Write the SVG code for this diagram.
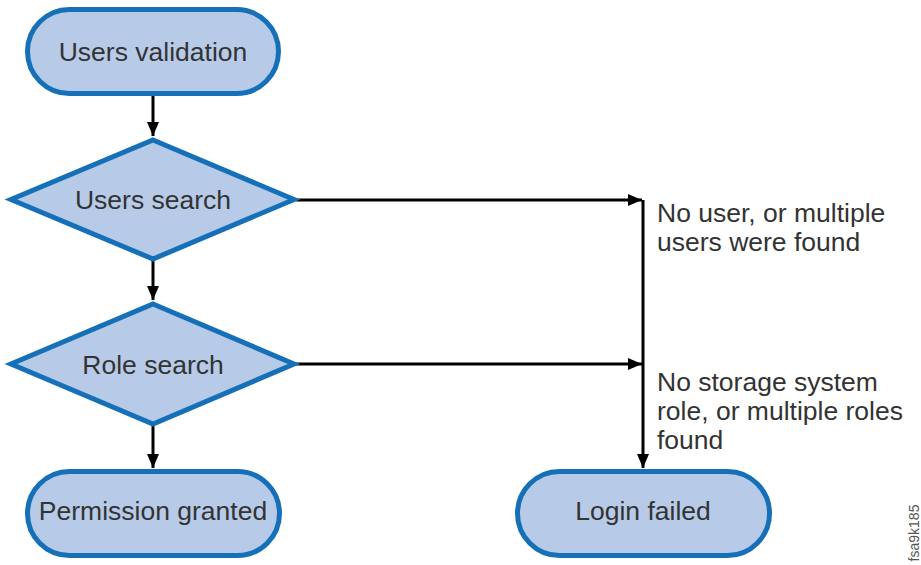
<svg xmlns="http://www.w3.org/2000/svg" width="921" height="565" viewBox="0 0 921 565">
<style>
.node{fill:#b7cbe9;stroke:#1670b8;stroke-width:5}
.lbl{font-family:"Liberation Sans",Arial,sans-serif;font-size:26.5px;fill:#333333}
.c{text-anchor:middle}
.edge{stroke:#000;stroke-width:3;fill:none}
</style>
<defs>
<marker id="ah" viewBox="0 0 14 12" refX="14" refY="6" markerWidth="14" markerHeight="12" markerUnits="userSpaceOnUse" orient="auto">
<path d="M0,0 L14,6 L0,12 Z" fill="#000"/>
</marker>
</defs>
<rect width="921" height="565" fill="#fff"/>
<g id="connectors">
<line class="edge" x1="153" y1="95" x2="153" y2="136" marker-end="url(#ah)"/>
<line class="edge" x1="153" y1="261" x2="153" y2="300" marker-end="url(#ah)"/>
<line class="edge" x1="153" y1="426" x2="153" y2="468" marker-end="url(#ah)"/>
<line class="edge" x1="296" y1="200" x2="642" y2="200" marker-end="url(#ah)"/>
<line class="edge" x1="296" y1="364" x2="642" y2="364" marker-end="url(#ah)"/>
<line class="edge" x1="643" y1="200" x2="643" y2="468" marker-end="url(#ah)"/>
</g>
<g id="users-validation">
<rect class="node" x="27.5" y="9.5" width="251" height="84" rx="42" ry="42"/>
<text class="lbl c" x="153" y="61">Users validation</text>
</g>
<g id="users-search">
<polygon class="node" points="153,140 294,199.5 153,259 11,199.5"/>
<text class="lbl c" x="153" y="209">Users search</text>
</g>
<g id="role-search">
<polygon class="node" points="153,304 294,364 153,424 11,364"/>
<text class="lbl c" x="153" y="374">Role search</text>
</g>
<g id="permission-granted">
<rect class="node" x="27.5" y="471.5" width="252" height="84" rx="42" ry="42"/>
<text class="lbl c" x="153" y="520">Permission granted</text>
</g>
<g id="login-failed">
<rect class="node" x="517.5" y="471.5" width="252" height="84" rx="42" ry="42"/>
<text class="lbl c" x="643" y="520">Login failed</text>
</g>
<g id="label-users">
<text class="lbl" x="657" y="222">No user, or multiple</text>
<text class="lbl" x="657" y="251">users were found</text>
</g>
<g id="label-roles">
<text class="lbl" x="657" y="391">No storage system</text>
<text class="lbl" x="657" y="420">role, or multiple roles</text>
<text class="lbl" x="657" y="449">found</text>
</g>
<text x="0" y="0" transform="translate(919,533) rotate(-90)" font-family="Liberation Sans,Arial,sans-serif" font-size="14" fill="#555" text-anchor="middle">fsa9k185</text>
</svg>
